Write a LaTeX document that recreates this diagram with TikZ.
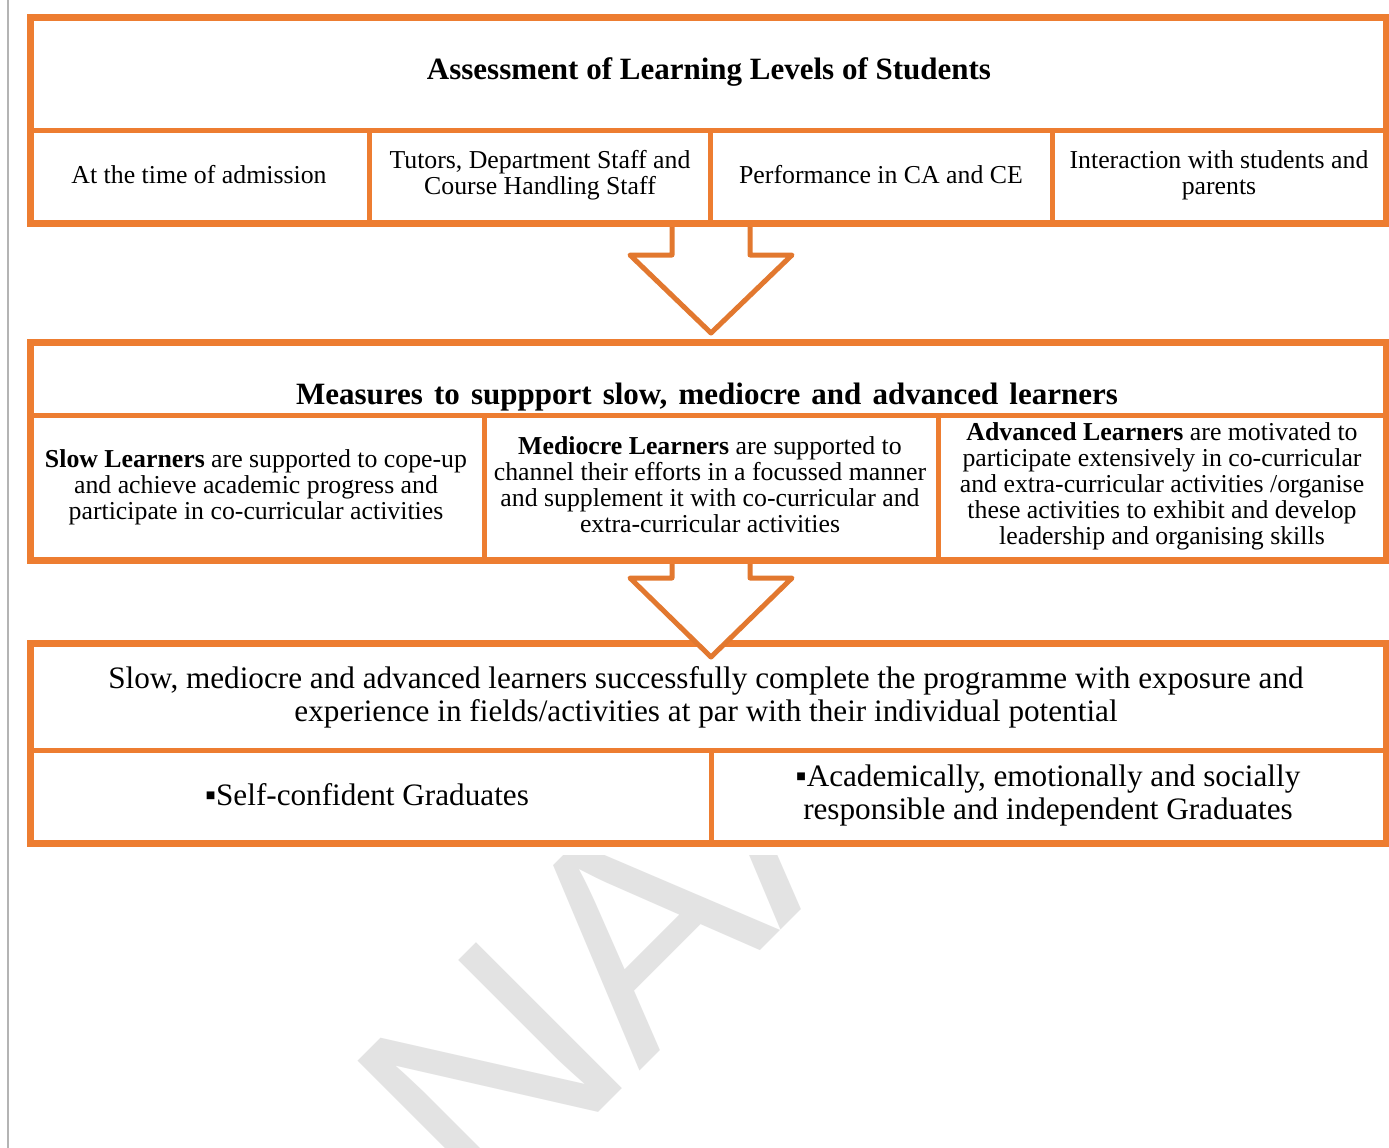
\documentclass[tikz,border=0pt]{standalone}
\usepackage{fontspec}
\setmainfont{Liberation Serif}
\newfontfamily\markfont{Liberation Sans}
\usetikzlibrary{positioning, calc}
\definecolor{boxorange}{HTML}{ED7D31}
\definecolor{arroworange}{HTML}{E2782F}
\definecolor{markgray}{HTML}{E3E3E3}
\definecolor{edgegray}{HTML}{B4B4B4}

\begin{document}
\begin{tikzpicture}[x=1pt, y=-1pt,
  outerbox/.style={draw=boxorange, line width=7pt, fill=white},
  divider/.style={draw=boxorange, line width=5pt},
  blockarrow/.style={draw=arroworange, line width=5pt, fill=white, line join=round},
  cell/.style={align=center, inner sep=0pt, font=\fontsize{25.8}{26}\selectfont},
  head/.style={align=center, inner sep=0pt, font=\fontsize{31}{33}\selectfont\bfseries},
  bigcell/.style={align=center, inner sep=0pt, font=\fontsize{31.2}{33}\selectfont}]
\useasboundingbox (0,0) rectangle (1389,1148);
\fill[white] (0,0) rectangle (1389,1148);
% page edge
\draw[edgegray, line width=1.2pt] (8,0) -- (8,1148);

% watermark
\begin{scope}
\clip (10,855) rectangle (1389,1148);
\node[markgray, font=\fontsize{300}{300}\selectfont\markfont, rotate=45, anchor=base west, inner sep=0pt] (mark) at (486,1225) {NAAC};
\end{scope}

% Outcome box (under the second arrow tip)
\draw[outerbox] (30,643) rectangle (1386,843);
\draw[divider] (30,750) -- (1386,750);
\draw[divider] (711,750) -- (711,843);

% Arrows
\coordinate (a1) at (711,223);
\coordinate (a1tip) at (711,333);
\coordinate (a2) at (711,560);
\coordinate (a2tip) at (711,657);
\draw[blockarrow] ($(a1)+(-39,0)$) -- ($(a1)+(-39,32)$) -- ($(a1)+(-81,32)$) -- (a1tip)
  -- ($(a1)+(81,32)$) -- ($(a1)+(39,32)$) -- ($(a1)+(39,0)$);
\draw[blockarrow] ($(a2)+(-39,0)$) -- ($(a2)+(-39,18)$) -- ($(a2)+(-81,18)$) -- (a2tip)
  -- ($(a2)+(81,18)$) -- ($(a2)+(39,18)$) -- ($(a2)+(39,0)$);

% Assessment box
\draw[outerbox] (30,18) rectangle (1386,223);
\draw[divider] (30,130) -- (1386,130);
\foreach \x in {369,710,1052} \draw[divider] (\x,130) -- (\x,223);

% Measures box
\draw[outerbox] (30,342) rectangle (1386,560);
\draw[divider] (30,415) -- (1386,415);
\foreach \x in {484,938} \draw[divider] (\x,415) -- (\x,560);

% Assessment texts
\node[head] (assess) at (709,72) {Assessment of Learning Levels of Students};
\node[cell] (admission) at (199,175) {At the time of admission};
\node[cell] (tutors) at (540,175) {Tutors, Department Staff and\\Course Handling Staff};
\node[cell] (perform) at (881,175) {Performance in CA and CE};
\node[cell] (interact) at (1219,175) {Interaction with students and\\parents};

% Measures texts
\node[head] (measures) at (707,397) {\spaceskip=0.36em plus 0.1em\relax Measures to suppport slow, mediocre and advanced learners};
\node[cell] (slow) at (256,487) {\textbf{Slow Learners} are supported to cope-up\\and achieve academic progress and\\participate in co-curricular activities};
\node[cell] (mediocre) at (710,485) {\textbf{Mediocre Learners} are supported to\\channel their efforts in a focussed manner\\and supplement it with co-curricular and\\extra-curricular activities};
\node[cell] (advanced) at (1162,486) {\textbf{Advanced Learners} are motivated to\\participate extensively in co-curricular\\and extra-curricular activities /organise\\these activities to exhibit and develop\\leadership and organising skills};

% Outcome texts
\node[bigcell] (outcome) at (706,697) {Slow, mediocre and advanced learners successfully complete the programme with exposure and\\experience in fields/activities at par with their individual potential};
\node[bigcell] (selfconf) at (367,795) {▪Self-confident Graduates};
\node[bigcell] (academic) at (1048,795) {▪Academically, emotionally and socially\\responsible and independent Graduates};
\end{tikzpicture}
\end{document}
